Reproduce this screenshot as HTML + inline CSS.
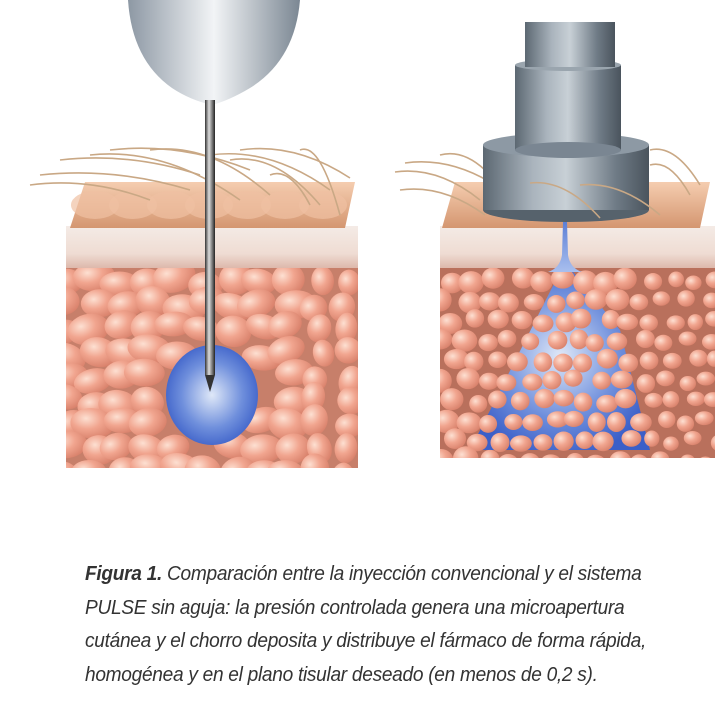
<!DOCTYPE html>
<html><head><meta charset="utf-8"><style>
body{margin:0;background:#fff;width:726px;height:710px;overflow:hidden;position:relative}
.cap{position:absolute;left:85px;top:558px;width:680px;font-family:"Liberation Sans Narrow","Liberation Sans",sans-serif;font-style:italic;font-size:20px;line-height:33.5px;color:#333;letter-spacing:-0.3px;white-space:nowrap;transform:scaleX(0.955);transform-origin:0 0}
.cap b{font-weight:bold}
</style></head><body>
<svg id="s" width="726" height="500" style="position:absolute;left:0;top:0">
<defs>
<radialGradient id="cell" cx="35%" cy="35%" r="70%"><stop offset="0" stop-color="#fde0d2"/><stop offset="0.5" stop-color="#f1a58f"/><stop offset="1" stop-color="#d9826c"/></radialGradient>
<radialGradient id="blue" cx="50%" cy="50%" r="55%"><stop offset="0" stop-color="#dfe8f8"/><stop offset="0.6" stop-color="#6f8fdc"/><stop offset="1" stop-color="#3b5fc8"/></radialGradient>
<linearGradient id="band" x1="0" y1="0" x2="0" y2="1"><stop offset="0" stop-color="#f4ebe6"/><stop offset="0.6" stop-color="#efdcd3"/><stop offset="1" stop-color="#d8aea0"/></linearGradient>
<linearGradient id="tan" x1="0" y1="0" x2="0" y2="1"><stop offset="0" stop-color="#f5cdb0"/><stop offset="1" stop-color="#d49670"/></linearGradient>
<linearGradient id="metal" x1="0" x2="1"><stop offset="0" stop-color="#5c6872"/><stop offset="0.3" stop-color="#aab4bd"/><stop offset="0.5" stop-color="#c8d0d6"/><stop offset="0.8" stop-color="#6f7b86"/><stop offset="1" stop-color="#4a545d"/></linearGradient>
<linearGradient id="cone" x1="0" x2="1"><stop offset="0" stop-color="#8d98a4"/><stop offset="0.5" stop-color="#f2f4f6"/><stop offset="1" stop-color="#7b8793"/></linearGradient>
<linearGradient id="ndl" x1="0" x2="1"><stop offset="0" stop-color="#333"/><stop offset="0.4" stop-color="#ddd"/><stop offset="1" stop-color="#222"/></linearGradient>
<linearGradient id="jet" x1="0" y1="0" x2="0" y2="1"><stop offset="0" stop-color="#5c7fd6"/><stop offset="1" stop-color="#a9bfee"/></linearGradient>
<clipPath id="cl"><rect x="66" y="268" width="292" height="200"/></clipPath>
<clipPath id="cr"><rect x="440" y="268" width="275" height="190"/></clipPath>
</defs>
<rect x="66" y="226" width="292" height="46" fill="url(#band)"/>
<rect x="66" y="268" width="292" height="200" fill="#c77f6a"/>
<g id="cellsL" clip-path="url(#cl)"></g>
<ellipse cx="212" cy="395" rx="46" ry="50" fill="url(#blue)"/>
<polygon points="85,182 355,182 345,228 70,228" fill="url(#tan)"/>
<g id="bumpL"></g>
<g id="hairL" fill="none" stroke="#c9a885" stroke-width="1.6"></g>
<path d="M128,0 L300,0 Q295,60 250,88 Q230,100 212,105 Q190,100 172,88 Q132,60 128,0Z" fill="url(#cone)"/>
<rect x="205" y="100" width="10" height="275" fill="url(#ndl)"/>
<polygon points="205,375 215,375 210,392" fill="#333"/>
<rect x="440" y="226" width="275" height="46" fill="url(#band)"/>
<rect x="440" y="268" width="275" height="190" fill="#b9705c"/>
<polygon points="565,262 470,450 650,450 620,330" fill="url(#blue)" clip-path="url(#cr)"/>
<g id="cellsR" clip-path="url(#cr)"></g>
<polygon points="455,182 710,182 700,228 442,228" fill="url(#tan)"/>
<path d="M563,222 L562,255 Q560,268 548,272 L582,272 Q570,268 568,255 L567,222Z" fill="url(#jet)"/>
<g id="hairR" fill="none" stroke="#c9a885" stroke-width="1.6"></g>
<ellipse cx="566" cy="210" rx="83" ry="12" fill="#56626c"/>
<rect x="483" y="145" width="166" height="65" fill="url(#metal)"/>
<ellipse cx="566" cy="145" rx="83" ry="12" fill="#8d99a4"/>
<rect x="515" y="65" width="106" height="85" fill="url(#metal)"/>
<ellipse cx="568" cy="150" rx="53" ry="8" fill="#7a8692"/>
<ellipse cx="568" cy="65" rx="53" ry="6" fill="#9aa5ae"/>
<rect x="525" y="22" width="90" height="45" fill="url(#metal)"/>
<g id="hairR2" fill="none" stroke="#c9a885" stroke-width="1.6"></g>
</svg>
<div class="cap"><b>Figura 1.</b> Comparación entre la inyección convencional y el sistema<br>PULSE sin aguja: la presión controlada genera una microapertura<br>cutánea y el chorro deposita y distribuye el fármaco de forma rápida,<br>homogénea y en el plano tisular deseado (en menos de 0,2 s).</div>
<script>
var seed=7;function r(){seed=(seed*9301+49297)%233280;return seed/233280;}
var NS="http://www.w3.org/2000/svg";
function el(p,t,a){var e=document.createElementNS(NS,t);for(var k in a)e.setAttribute(k,a[k]);document.getElementById(p).appendChild(e);}
for(var y=276;y<480;y+=24){for(var x=60;x<365;x+=28){var cx=x+r()*12,cy=y+r()*10;var dx=cx-212,dy=cy-395;if(dx*dx/2600+dy*dy/2900<1)continue;var s=(cx>300)?0.65:1;el("cellsL","ellipse",{cx:cx,cy:cy,rx:(16+r()*6)*s,ry:12+r()*4,fill:"url(#cell)",transform:"rotate("+(r()*40-20)+" "+cx+" "+cy+")"});}}
for(var y=278;y<465;y+=20){for(var x=440;x<720;x+=22){var cx=x+r()*8+((y/20|0)%2)*9,cy=y+r()*6;var inb=(cy>300&&cx>470&&cx<650);var rr=inb?9:11;if(cx>650)rr=7.5;el("cellsR","ellipse",{cx:cx,cy:cy,rx:rr+r()*2,ry:rr-1+r()*2,fill:"url(#cell)"});}}
for(var x=95;x<350;x+=38){el("bumpL","ellipse",{cx:x,cy:205,rx:24,ry:14,fill:"#f0c0a2",opacity:0.7});}
var hl=[[40,175,190,190],[30,185,150,200],[60,160,200,175],[90,155,240,200],[110,150,250,170],[150,150,270,195],[210,155,330,190],[240,150,350,178],[230,160,320,205],[270,175,310,205],[300,150,340,215]];
hl.forEach(function(h){el("hairL","path",{d:"M"+h[0]+","+h[1]+" Q"+((h[0]+h[2])/2)+","+(h[1]-8)+" "+h[2]+","+h[3]});});
var hr=[[395,172,480,200],[405,163,490,182],[440,155,485,170],[400,190,485,215],[650,150,700,185],[650,165,690,195]];
hr.forEach(function(h){el("hairR","path",{d:"M"+h[0]+","+h[1]+" Q"+((h[0]+h[2])/2)+","+(h[1]-6)+" "+h[2]+","+h[3]});});
[[530,183,600,218],[580,185,660,215]].forEach(function(h){el("hairR2","path",{d:"M"+h[0]+","+h[1]+" Q"+((h[0]+h[2])/2)+","+(h[1]-4)+" "+h[2]+","+h[3]});});
</script>
</body></html>
